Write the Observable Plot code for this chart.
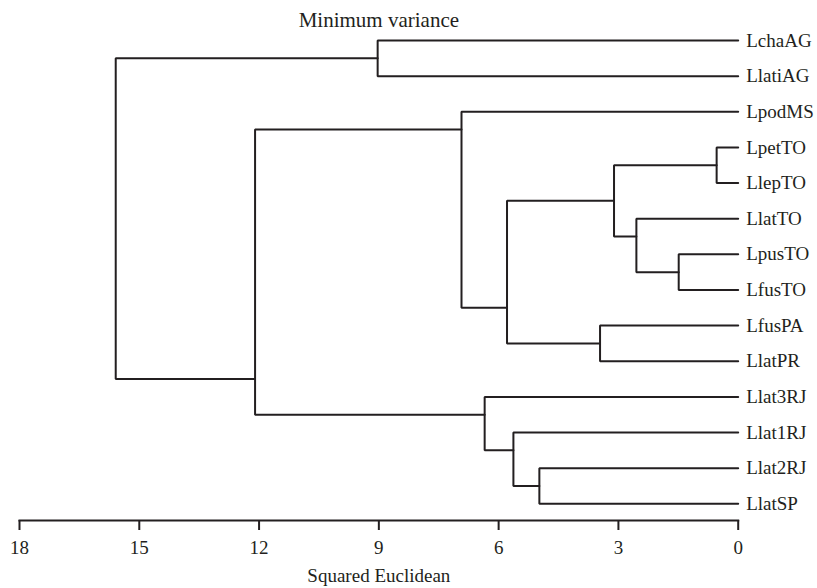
<!DOCTYPE html>
<html>
<head>
<meta charset="utf-8">
<script src="https://cdn.jsdelivr.net/npm/d3@7"></script>
<script src="https://cdn.jsdelivr.net/npm/@observablehq/plot@0.6"></script>
<style>
  html, body { margin: 0; padding: 0; background: #fff; }
  svg { display: block; }
</style>
</head>
<body>
<div id="chart"></div>
<script>
// Leaves, top to bottom
const leaves = ["LchaAG","LlatiAG","LpodMS","LpetTO","LlepTO","LlatTO","LpusTO","LfusTO","LfusPA","LlatPR","Llat3RJ","Llat1RJ","Llat2RJ","LlatSP"];
// Merges (linkage style): ids 0..13 are leaves, 14+ are merges in order
const mergeLeft   = [3, 6, 5, 14, 8, 12, 11, 17, 10, 2, 0, 23, 24];
const mergeRight  = [4, 7, 15, 16, 9, 13, 19, 18, 20, 21, 1, 22, 25];
const mergeHeight = [0.54, 1.49, 2.55, 3.11, 3.46, 4.98, 5.63, 5.79, 6.35, 6.93, 9.03, 12.1, 15.59];
const xTicks = [18, 15, 12, 9, 6, 3, 0];
const title = "Minimum variance";
const xLabel = "Squared Euclidean";

const n = leaves.length;
const height = {}, ypos = {}, maxLeaf = {};
leaves.forEach((_, i) => { height[i] = 0; ypos[i] = i; maxLeaf[i] = i; });
const elbows = [];
mergeLeft.forEach((l, k) => {
  const id = n + k, r = mergeRight[k], h = mergeHeight[k];
  height[id] = h;
  maxLeaf[id] = Math.max(maxLeaf[l], maxLeaf[r]);
  ypos[id] = maxLeaf[l] + 0.5;
  elbows.push({id, x: height[l], y: ypos[l]});
  elbows.push({id, x: h, y: ypos[l]});
  elbows.push({id, x: h, y: ypos[r]});
  elbows.push({id, x: height[r], y: ypos[r]});
});
const leafData = leaves.map((name, i) => ({name, i}));

const ink = "#231f20";
const chart = Plot.plot({
  width: 817,
  height: 588,
  marginLeft: 19,
  marginRight: 79.3,
  marginTop: 40,
  marginBottom: 68,
  style: {fontFamily: "'Liberation Serif', 'Times New Roman', serif", color: ink, background: "#fff"},
  x: {domain: [18, 0], ticks: xTicks},
  y: {domain: [0, 13], range: [40, 503.3], axis: null},
  marks: [
    Plot.line(elbows, {x: "x", y: "y", z: "id", stroke: ink, strokeWidth: 2, strokeLinejoin: "miter"}),
    Plot.text(leafData, {x: () => 0, y: "i", text: "name", textAnchor: "start", dx: 8, fontSize: 19, fill: ink}),
    Plot.frame({anchor: "bottom", stroke: ink, strokeWidth: 2}),
    Plot.axisX({ticks: xTicks, tickSize: 10, tickPadding: 10, fontSize: 19, label: null, stroke: ink, strokeWidth: 2, tickFormat: d => String(d)}),
    Plot.text([title], {frameAnchor: "top", lineAnchor: "middle", text: d => d, dy: -20.7, fontSize: 21, fill: ink}),
    Plot.text([xLabel], {frameAnchor: "bottom", lineAnchor: "middle", text: d => d, dy: 55, fontSize: 19, fill: ink})
  ]
});
document.getElementById("chart").appendChild(chart);
</script>
</body>
</html>
